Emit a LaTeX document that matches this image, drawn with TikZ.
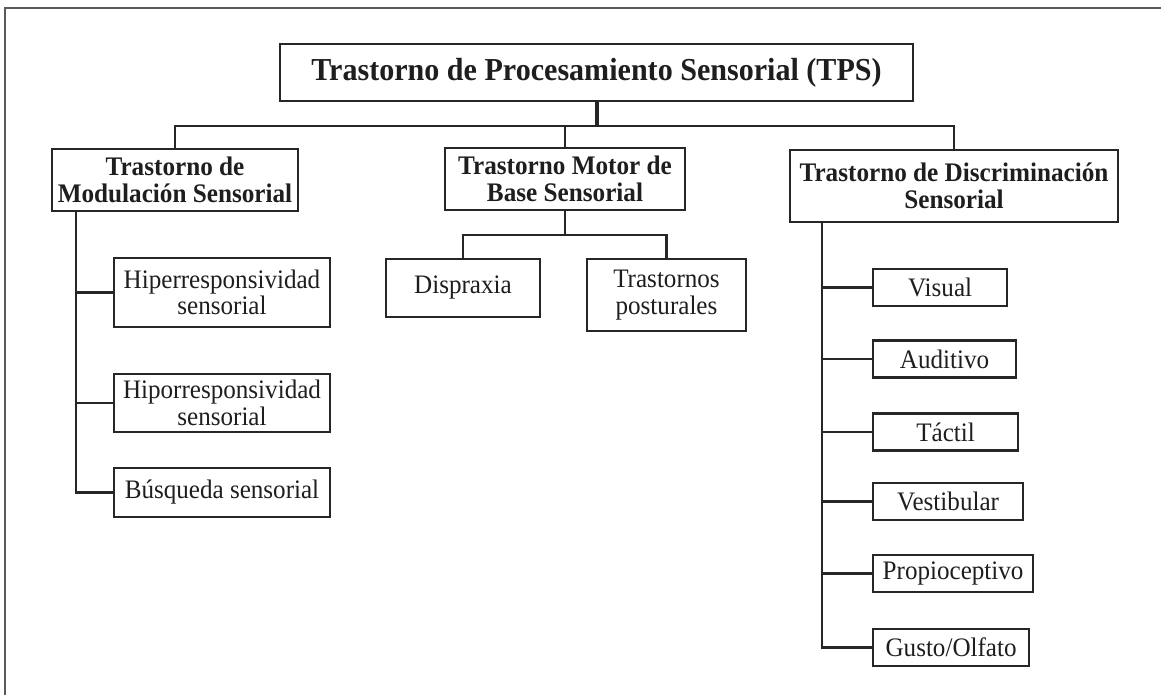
\documentclass[tikz,border=0pt]{standalone}
\usepackage{fontspec}
\setmainfont{Liberation Serif}[FakeStretch=0.94]
\usetikzlibrary{calc}
\definecolor{linecol}{HTML}{262626}
\definecolor{txtcol}{HTML}{1E1E1E}
\definecolor{framecol}{HTML}{5A5A5A}
\begin{document}
\begin{tikzpicture}[x=1pt,y=-1pt,
  box/.style={draw=linecol, line width=2.2pt, inner sep=0pt, align=center, text=txtcol,
    font=\fontsize{26.7}{26.7}\selectfont},
  bbox/.style={box, font=\fontsize{26.8}{27}\selectfont\bfseries},
  tbox/.style={box, font=\fontsize{32}{34}\selectfont\bfseries},
  leaf/.style={box, anchor=west, minimum height=37pt},
  conn/.style={draw=linecol, line width=2.2pt},
  thickconn/.style={draw=linecol, line width=4pt},
  framel/.style={draw=framecol, line width=1.3pt}]
\useasboundingbox (0,0) rectangle (1161,695);
% frame (cropped)
\draw[framel] (5,700) -- (5,8) -- (1170,8);

% top level
\node[tbox, minimum width=633pt, minimum height=57pt] (title) at (596.5,72.5)
  {Trastorno de Procesamiento Sensorial (TPS)};

% second level
\node[bbox, minimum width=246pt, minimum height=62pt] (mod) at (175,180)
  {Trastorno de\\Modulación Sensorial};
\node[bbox, minimum width=240pt, minimum height=62pt] (motor) at (565,179)
  {Trastorno Motor de\\Base Sensorial};
\node[bbox, minimum width=328pt, minimum height=72pt] (disc) at (954,186)
  {Trastorno de Discriminación\\Sensorial};

% modulation children
\node[box, minimum width=216pt, minimum height=69pt] (hiper) at (222,292.5)
  {Hiperresponsividad\\sensorial};
\node[box, minimum width=216pt, minimum height=58pt] (hipo) at (222,403)
  {Hiporresponsividad\\sensorial};
\node[box, minimum width=216pt, minimum height=49pt] (busq) at (222,492.5)
  {Búsqueda sensorial};

% motor children
\node[box, minimum width=154pt, minimum height=58pt] (disp) at (463,288)
  {Dispraxia};
\node[box, minimum width=159pt, minimum height=72pt] (post) at (666.5,295)
  {Trastornos\\posturales};

% discrimination children
\node[leaf, minimum width=134pt] (visual) at (872,287.5) {Visual};
\node[leaf, minimum width=143pt] (audi) at (872,359) {Auditivo};
\node[leaf, minimum width=145pt] (tactil) at (872,432) {Táctil};
\node[leaf, minimum width=150pt] (vest) at (872,501.5) {Vestibular};
\node[leaf, minimum width=160pt] (propio) at (872,573.5) {Propioceptivo};
\node[leaf, minimum width=156pt] (gusto) at (872,647.5) {Gusto/Olfato};

% junctions
\coordinate (j1) at (596.5,126);
\coordinate (mtop) at ($(mod.south west)+(25,0)$);
\coordinate (j2) at (565,235);
\coordinate (dtop) at ($(disc.south west)+(33,0)$);

% top connectors
\draw[thickconn] (title.south) -- (j1);
\draw[conn] (mod.north) |- (j1) -| (disc.north);
\draw[conn] (motor.north) -- (motor.north |- j1);

% modulation connectors
\draw[conn] (mtop) |- (busq.west);
\draw[conn] (mtop |- hiper.west) -- (hiper.west);
\draw[conn] (mtop |- hipo.west) -- (hipo.west);

% motor connectors
\draw[conn] (motor.south) -- (j2);
\draw[conn] (disp.north) |- (j2) -| (post.north);

% discrimination connectors
\draw[conn] (dtop) |- (gusto.west);
\foreach \n in {visual,audi,tactil,vest,propio}
  \draw[conn] (dtop |- \n.west) -- (\n.west);
\end{tikzpicture}
\end{document}
